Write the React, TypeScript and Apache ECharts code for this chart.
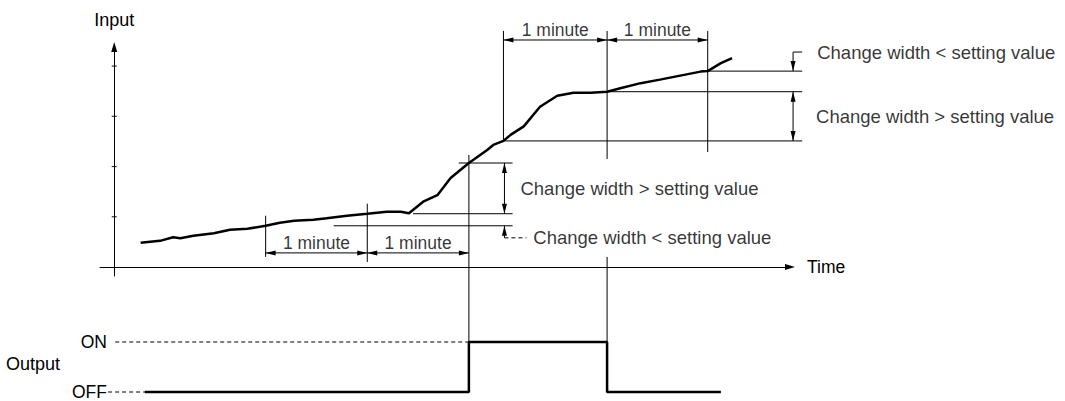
import React, { useEffect, useRef } from "react";
import * as echarts from "echarts";

// ---- data (time in minutes from the input axis, input in axis units) ----
const curveTime = [0.26, 0.45, 0.58, 0.65, 0.78, 0.98, 1.14, 1.31, 1.49, 1.63, 1.77, 1.96, 2.09, 2.29, 2.49, 2.68, 2.82, 2.9, 3.04, 3.18, 3.31, 3.49, 3.67, 3.73, 3.83, 3.9, 4.03, 4.19, 4.36, 4.52, 4.69, 4.85, 4.98, 5.18, 5.37, 5.57, 5.77, 5.84, 5.97, 6.08];
const curveInput = [0.48, 0.52, 0.59, 0.57, 0.62, 0.67, 0.74, 0.76, 0.82, 0.88, 0.92, 0.94, 0.97, 1.02, 1.06, 1.1, 1.1, 1.07, 1.3, 1.43, 1.77, 2.07, 2.33, 2.43, 2.51, 2.63, 2.8, 3.19, 3.41, 3.47, 3.47, 3.49, 3.56, 3.66, 3.73, 3.81, 3.89, 3.9, 4.06, 4.16];
const inputTicks = [1, 2, 3, 4];
const firstCheckTimes = [1.49, 2.49, 3.49];
const firstCheckLevels = [0.82, 1.06, 2.07];
const secondCheckTimes = [3.83, 4.85, 5.84];
const secondCheckLevels = [2.51, 3.49, 3.9];
const outputTime = [0.3, 3.49, 3.49, 4.85, 4.85, 5.97];
const outputState = [0, 0, 1, 1, 0, 0];
const outputStateNames = ["OFF", "ON"];
const minuteLabel = "1 minute";
const overLabel = "Change width > setting value";
const underLabel = "Change width < setting value";

const FONT = "'Liberation Sans', Arial, sans-serif";
const BLACK = "#000";
const AW = 5;
const AH = 10;
// axis indices
const INPUT = 0;
const OUTPUT = 1;
const NOTE = 2;

type Dir = "up" | "down" | "left" | "right";

function tip(p: number[], dir: Dir) {
  const rot = { up: 0, down: 180, left: 90, right: -90 }[dir];
  const off = { up: [0, AH / 2], down: [0, -AH / 2], left: [AH / 2, 0], right: [-AH / 2, 0] }[dir];
  return { value: p, symbol: "triangle", symbolSize: [AW, AH], symbolRotate: rot, symbolOffset: off };
}
function plain(p: number[]) {
  return { value: p, symbol: "none" };
}
function seg(data: any[], axis: number, dashed = false) {
  return {
    type: "line",
    xAxisIndex: axis,
    yAxisIndex: axis,
    data,
    clip: false,
    silent: true,
    symbol: "none",
    showSymbol: true,
    lineStyle: { color: BLACK, width: 1, type: dashed ? [4, 3] : "solid" },
    itemStyle: { color: BLACK },
    z: 3,
  };
}
function textAt(p: number[], text: string, position: string, distance: number, fontSize: number) {
  return {
    value: p,
    label: { show: true, formatter: text, position, distance, fontSize, fontFamily: FONT, color: BLACK },
  };
}

export default function App() {
  const ref = useRef<HTMLDivElement>(null);
  useEffect(() => {
    if (!ref.current) return;
    const chart = echarts.init(ref.current, null, { renderer: "svg" });
    const [a1, a2, a3] = firstCheckTimes;
    const [la1, la2, la3] = firstCheckLevels;
    const [b1, b2, b3] = secondCheckTimes;
    const [lb1, lb2, lb3] = secondCheckLevels;
    const xMin = -0.14;
    const yMin = -0.18;
    const y2Max = 2.32;
    const dimLow = 0.28;
    const dimHigh = 4.52;
    const guideTop = 4.7;
    const midX = 3.84;
    const rightX = 6.68;
    const guideEnd = 6.77;
    const bracketY = 4.28;

    const series: any[] = [];
    // input curve
    series.push({
      type: "line",
      xAxisIndex: INPUT,
      yAxisIndex: INPUT,
      data: curveTime.map((t, i) => [t, curveInput[i]]),
      symbol: "none",
      silent: true,
      lineStyle: { color: BLACK, width: 2.5 },
      z: 5,
    });
    // input axis ticks
    series.push({
      type: "scatter",
      xAxisIndex: INPUT,
      yAxisIndex: INPUT,
      data: inputTicks.map((v) => [0, v]),
      symbol: "rect",
      symbolSize: [5, 1.2],
      itemStyle: { color: BLACK },
      silent: true,
    });
    // vertical guides
    const vGuides = [
      [[a1, la1 + 0.2], [a1, 0.2]],
      [[a2, la2 + 0.2], [a2, 0.1]],
      [[a3, la3 + 0.16], [a3, yMin]],
      [[b1, guideTop], [b1, lb1]],
      [[b2, guideTop], [b2, 2.15]],
      [[b2, 0.2], [b2, yMin]],
      [[b3, guideTop], [b3, 2.29]],
    ];
    vGuides.forEach((s) => series.push(seg(s.map(plain), NOTE)));
    // horizontal guides
    const hGuides = [
      [[a3 - 0.1, la3], [3.92, la3]],
      [[2.94, la2], [3.92, la2]],
      [[2.16, la1], [3.92, la1]],
      [[b3, lb3], [guideEnd, lb3]],
      [[b2, lb2], [guideEnd, lb2]],
      [[b1, lb1], [guideEnd, lb1]],
    ];
    hGuides.forEach((s) => series.push(seg(s.map(plain), NOTE)));
    // dimension arrows
    const dims: any[] = [
      [tip([a1, dimLow], "left"), tip([a2, dimLow], "right")],
      [tip([a2, dimLow], "left"), tip([a3, dimLow], "right")],
      [tip([b1, dimHigh], "left"), tip([b2, dimHigh], "right")],
      [tip([b2, dimHigh], "left"), tip([b3, dimHigh], "right")],
      [tip([midX, la3], "up"), tip([midX, la2], "down")],
      [plain([midX, 0.58]), tip([midX, la1], "up")],
      [plain([6.77, bracketY]), plain([rightX, bracketY]), tip([rightX, lb3], "down")],
      [tip([rightX, lb2], "up"), tip([rightX, lb1], "down")],
    ];
    dims.forEach((d) => series.push(seg(d, NOTE)));
    series.push(seg([plain([midX, 0.58]), plain([4.055, 0.58])], NOTE, true));
    // labels
    series.push({
      type: "scatter",
      xAxisIndex: NOTE,
      yAxisIndex: NOTE,
      symbolSize: 0,
      clip: false,
      silent: true,
      data: [
        textAt([(a1 + a2) / 2, dimLow], minuteLabel, "top", 1, 17.5),
        textAt([(a2 + a3) / 2, dimLow], minuteLabel, "top", 1, 17.5),
        textAt([(b1 + b2) / 2, dimHigh], minuteLabel, "top", 1, 17.5),
        textAt([(b2 + b3) / 2, dimHigh], minuteLabel, "top", 1, 17.5),
        textAt([midX, (la2 + la3) / 2], overLabel, "right", 16, 18.5),
        textAt([4.055, 0.58], underLabel, "right", 7, 18.5),
        textAt([6.77, bracketY], underLabel, "right", 15, 18.5),
        textAt([rightX, (lb1 + lb2) / 2], overLabel, "right", 23, 18.5),
      ],
    });
    // output
    series.push(seg([plain([a3, y2Max]), plain([a3, 1])], OUTPUT));
    series.push(seg([plain([b2, y2Max]), plain([b2, 1])], OUTPUT));
    series.push(seg([plain([0.01, 1]), plain([a3, 1])], OUTPUT, true));
    series.push(seg([plain([-0.06, 0]), plain([outputTime[0], 0])], OUTPUT, true));
    series.push({
      type: "line",
      xAxisIndex: OUTPUT,
      yAxisIndex: OUTPUT,
      data: outputTime.map((t, i) => [t, outputState[i]]),
      symbol: "none",
      silent: true,
      clip: false,
      lineStyle: { color: BLACK, width: 2.5 },
      z: 5,
    });

    const nameStyle = { fontSize: 17.5, fontFamily: FONT, color: BLACK };
    const hidden = { show: false };
    chart.setOption({
      animation: false,
      textStyle: { fontFamily: FONT, color: BLACK },
      grid: [
        { left: 100, top: 47, width: 690, height: 229 },
        { left: 100, top: 276, width: 690, height: 116 },
        { left: 100, top: 20, width: 720, height: 256 },
      ],
      xAxis: [
        {
          gridIndex: 0,
          type: "value",
          min: xMin,
          max: 6.65,
          axisLine: { show: true, onZero: true, symbol: ["none", "triangle"], symbolSize: [6, 10], lineStyle: { color: BLACK, width: 1 } },
          axisTick: hidden,
          axisLabel: hidden,
          splitLine: hidden,
          name: "Time",
          nameLocation: "end",
          nameGap: 17,
          nameTextStyle: nameStyle,
        },
        { gridIndex: 1, type: "value", min: xMin, max: 6.65, show: false },
        { gridIndex: 2, type: "value", min: xMin, max: 6.945, show: false },
      ],
      yAxis: [
        {
          gridIndex: 0,
          type: "value",
          min: yMin,
          max: 4.38,
          axisLine: { show: true, onZero: true, symbol: ["none", "triangle"], symbolSize: [6, 10], lineStyle: { color: BLACK, width: 1 } },
          axisTick: hidden,
          axisLabel: hidden,
          splitLine: hidden,
          name: "Input",
          nameLocation: "end",
          nameGap: 18,
          nameTextStyle: { ...nameStyle, fontSize: 18 },
        },
        {
          gridIndex: 1,
          type: "value",
          min: 0,
          max: y2Max,
          interval: 1,
          axisLine: hidden,
          axisTick: hidden,
          splitLine: hidden,
          axisLabel: {
            margin: -7,
            fontSize: 17.5,
            fontFamily: FONT,
            color: BLACK,
            formatter: (v: number) => (v === 0 || v === 1 ? outputStateNames[v] : ""),
          },
        },
        { gridIndex: 2, type: "value", min: yMin, max: 4.918, show: false },
      ],
      graphic: [
        {
          type: "text",
          x: 6,
          y: 364,
          style: { text: "Output", fontSize: 18, fontFamily: FONT, fill: BLACK, verticalAlign: "middle" },
        },
      ],
      series,
    });
    return () => chart.dispose();
  }, []);
  return <div ref={ref} style={{ position: "absolute", left: 0, top: 0, width: 1065, height: 401, background: "#fff" }} />;
}
